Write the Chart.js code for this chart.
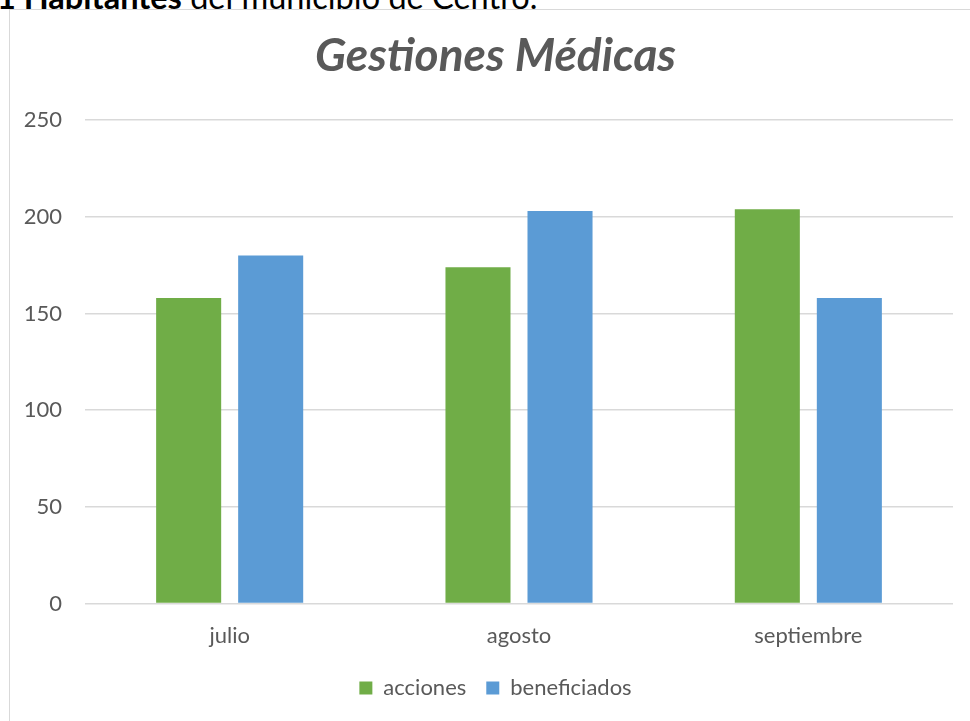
<!DOCTYPE html>
<html>
<head>
<meta charset="utf-8">
<script src="https://cdn.jsdelivr.net/npm/chart.js@4.4.1/dist/chart.umd.min.js"></script>
<style>
  body { margin: 0; width: 970px; height: 721px; overflow: hidden; background: #fff; position: relative; font-family: Lato, sans-serif; }
  #caption { position: absolute; left: -3px; top: -23px; font-size: 32.5px; line-height: 1.2; color: #000; white-space: nowrap; }
  #box { position: absolute; left: 9px; top: 9px; width: 973px; height: 730px; border: 1px solid #d9d9d9; box-sizing: border-box; background: #fff; }
  #box canvas { position: absolute; left: 0; top: 0; }
</style>
</head>
<body>
<div id="caption"><b>1 Habitantes</b> del municipio de Centro.</div>
<div id="box"><canvas id="chart" width="971" height="711"></canvas></div>
<script>
// values
const categories = ['julio', 'agosto', 'septiembre'];
const acciones = [158, 174, 204];
const beneficiados = [180, 203, 158];
const yTicks = [0, 50, 100, 150, 200, 250];

const grey = '#595959';

document.addEventListener('DOMContentLoaded', function() {
    const ctx = document.getElementById('chart');
    new Chart(ctx, {
        type: 'bar',
        data: {
            labels: categories,
            datasets: [
                {
                    label: 'acciones',
                    data: acciones,
                    backgroundColor: '#70ad47',
                    categoryPercentage: 0.567,
                    barPercentage: 0.793
                },
                {
                    label: 'beneficiados',
                    data: beneficiados,
                    backgroundColor: '#5b9bd5',
                    categoryPercentage: 0.567,
                    barPercentage: 0.793
                }
            ]
        },
        options: {
            responsive: false,
            animation: false,
            layout: { padding: { left: 0, right: 0, top: 19, bottom: 12 } },
            plugins: {
                title: {
                    display: true,
                    text: 'Gestiones Médicas',
                    color: grey,
                    font: { family: 'Lato', size: 46, weight: 'bold', style: 'italic', lineHeight: 1.2 },
                    padding: { top: 0, bottom: 36 }
                },
                legend: {
                    position: 'bottom',
                    labels: {
                        color: grey,
                        font: { family: 'Lato', size: 22 },
                        boxWidth: 13,
                        boxHeight: 13,
                        padding: 20
                    }
                },
                tooltip: { enabled: false }
            },
            scales: {
                x: {
                    // labels keep their place, the axis box is trimmed so the plot reaches lower
                    afterFit: function(scale) { scale.height -= 3; },
                    grid: { display: false },
                    border: { display: false },
                    ticks: { color: grey, font: { family: 'Lato', size: 22 }, padding: 11 }
                },
                y: {
                    min: 0,
                    max: 250,
                    afterFit: function(scale) { scale.width = 75; },
                    afterBuildTicks: function(scale) { scale.ticks = yTicks.map(v => ({ value: v })); },
                    grid: { color: '#d9d9d9', lineWidth: 1.5, drawTicks: false },
                    border: { display: false },
                    ticks: { color: grey, font: { family: 'Lato', size: 22 }, padding: 23 }
                },
                // empty strip on the right, keeps title and legend centred on the whole box
                right: {
                    position: 'right',
                    afterFit: function(scale) { scale.width = 28; },
                    grid: { display: false },
                    border: { display: false },
                    ticks: { display: false }
                }
            }
        }
    });
});
</script>
</body>
</html>
